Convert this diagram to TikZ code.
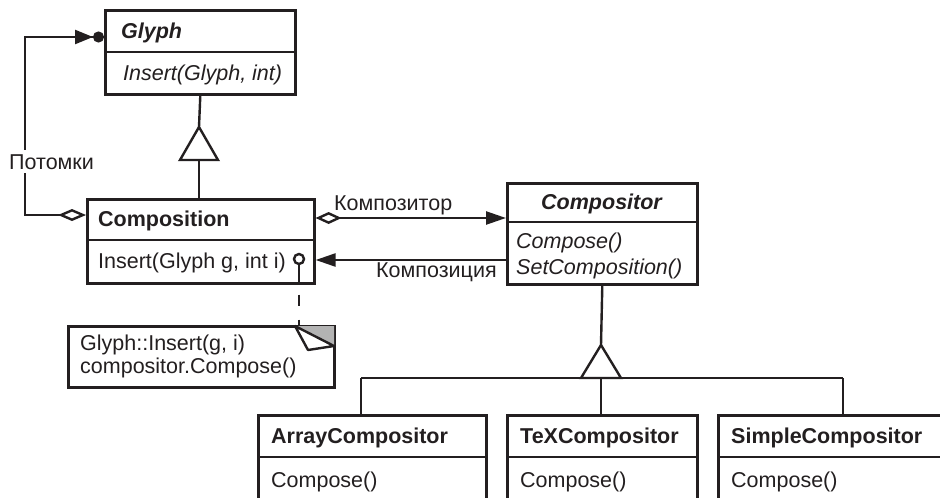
\documentclass[tikz,border=0pt]{standalone}
\usepackage{fontspec}
\setmainfont{Liberation Sans}
\usetikzlibrary{arrows.meta,calc}
\definecolor{ink}{HTML}{231F20}
\definecolor{foldgray}{HTML}{B3B3B3}
\begin{document}
\begin{tikzpicture}[x=1pt,y=-1pt,line width=2.4pt,draw=ink,
  umlbox/.style={draw=ink,line width=2.6pt,fill=white,inner sep=0pt,anchor=north west},
  divider/.style={draw=ink,line width=2.6pt},
  txt/.style={inner sep=0pt,anchor=base west,text=ink,font=\fontsize{21.5}{25}\selectfont},
  ttl/.style={txt,font=\fontsize{21.5}{25}\selectfont\bfseries},
  ittl/.style={txt,font=\fontsize{21.5}{25}\selectfont\bfseries\itshape},
  itxt/.style={txt,font=\fontsize{21.5}{25}\selectfont\itshape},
  conn/.style={draw=ink,line width=2.4pt},
]
\useasboundingbox (0,0) rectangle (940,498);
\clip (0,0) rectangle (940,498);

% boxes
\node[umlbox,minimum width=190pt,minimum height=84pt] (glyph) at (104,9) {};
\node[umlbox,minimum width=227pt,minimum height=84pt] (comp) at (86,198) {};
\node[umlbox,minimum width=190pt,minimum height=101pt] (compr) at (506,182) {};
\node[umlbox,minimum width=266pt,minimum height=61pt] (note) at (67,325) {};
\node[umlbox,minimum width=228pt,minimum height=110pt] (arr) at (257,414) {};
\node[umlbox,minimum width=190pt,minimum height=110pt] (tex) at (506,414) {};
\node[umlbox,minimum width=238pt,minimum height=110pt] (simp) at (717,414) {};

% dividers
\draw[divider] (105,52) -- (295,52);
\draw[divider] (87,240) -- (314,240);
\draw[divider] (507,222) -- (697,222);
\draw[divider] (258,457) -- (486,457);
\draw[divider] (507,457) -- (697,457);
\draw[divider] (718,457) -- (956,457);

% folded corner of the note
\fill[foldgray] (295,326) -- (334,326) -- (334,346) -- cycle;
\draw[conn,fill=white,line join=round] (295,326) .. controls (301,338) .. (308,350) -- (334,346) -- cycle;

% texts
\node[ittl] (tglyph) at (120,38) {Glyph};
\node[itxt] (tglyphop) at (122,80) {Insert(Glyph, int)};
\node[ttl] (tcomp) at (97,226) {Composition};
\node[txt] (tcompop) at (97,268) {Insert(Glyph g, int i)};
\node[ittl] (tcompr) at (540,209) {Compositor};
\node[itxt] (tcompr1) at (515,248) {Compose()};
\node[itxt] (tcompr2) at (515,274) {SetComposition()};
\node[txt] (tnote1) at (79,350) {Glyph::Insert(g, i)};
\node[txt] (tnote2) at (79,373) {compositor.Compose()};
\node[ttl] (tarr) at (270,443) {ArrayCompositor};
\node[txt] (tarrop) at (270,487) {Compose()};
\node[ttl] (ttex) at (519,443) {TeXCompositor};
\node[txt] (ttexop) at (519,487) {Compose()};
\node[ttl] (tsimp) at (730,443) {SimpleCompositor};
\node[txt] (tsimpop) at (730,487) {Compose()};

% children loop
\coordinate (lpA) at ($(comp.north west)+(0,17)$);
\coordinate (lpB) at ($(glyph.north west)+(0,28)$);
\coordinate (lpx) at (25,126);
\draw[conn,{Diamond[open,length=28pt,width=12pt]}-{Triangle[length=18pt,width=14pt]Circle[length=11pt]}]
  (lpA) -| (lpx) |- (lpB);
\node[txt,fill=white,inner xsep=1pt,inner ysep=4pt] (lbl1) at (7,169) {Потомки};

% Composition -> Compositor
\coordinate (c1) at ($(comp.north east)+(0,20)$);
\draw[conn,{Diamond[open,length=26pt,width=12pt]}-{Triangle[length=20pt,width=13pt]}] (c1) -- (c1 -| compr.west);
\node[txt] (lbl2) at (333,210) {Композитор};

% Compositor -> Composition
\coordinate (c2) at ($(compr.north west)+(0,78)$);
\draw[conn,-{Triangle[length=20pt,width=13pt]}] (c2) -- (c2 -| comp.east);
\node[txt] (lbl3) at (375,277) {Композиция};

% lollipop and note link
\node[circle,draw=ink,line width=2.4pt,fill=white,minimum size=10pt,inner sep=0pt] (lol) at (299,259) {};
\draw[conn] (lol.south) -- (lol.south |- comp.south);
\draw[conn,dash pattern=on 0pt off 10pt on 11pt off 14pt on 12pt] (lol.south |- comp.south) -- (lol.south |- note.north);

% Glyph inheritance
\coordinate (g1) at (199,127);
\coordinate (g1b) at (199,160);
\draw[conn] (glyph.south) -- (g1);
\draw[conn,fill=white] (g1) -- ++(19,33) -- ++(-38,0) -- cycle;
\draw[conn] (g1b) -- (g1b |- comp.north);

% Compositor inheritance
\coordinate (h1) at (601,345);
\coordinate (h1b) at (601,378);
\coordinate (ha) at (361,378);
\coordinate (hs) at (843,378);
\draw[conn] (compr.south) -- (h1);
\draw[conn] (ha) -- (hs);
\draw[conn,fill=white] (h1) -- ++(20,33) -- ++(-40,0) -- cycle;
\draw[conn] (h1b) -- (h1b |- tex.north);
\draw[conn] (ha) -- (ha |- arr.north);
\draw[conn] (hs) -- (hs |- simp.north);
\end{tikzpicture}
\end{document}
